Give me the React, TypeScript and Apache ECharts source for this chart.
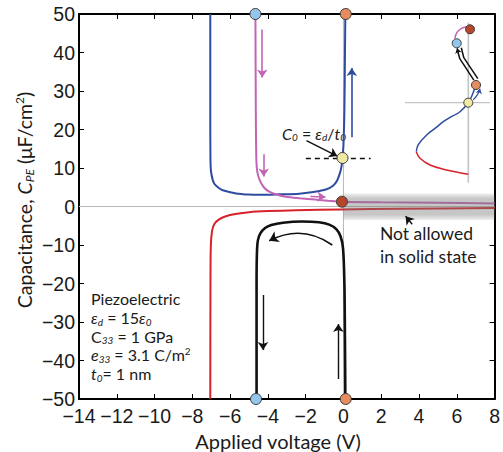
import React, { useEffect, useRef } from "react";
import * as echarts from "echarts";

// ---------- main axes ----------
const xMin = -14, xMax = 8, xStep = 2;
const yMin = -50, yMax = 50, yStep = 10;

// ---------- main curves: [V, C] ----------
const blueCurve: number[][] = [
  [-7.05, 50], [-7.05, 25], [-7.04, 12], [-7.0, 8.7], [-6.85, 6.0], [-6.6, 4.8], [-6.39, 4.2],
  [-5.68, 3.4], [-5.0, 3.1], [-4.45, 3.05], [-3.4, 3.15], [-2.34, 3.3], [-1.6, 3.75],
  [-0.93, 4.4], [-0.55, 5.4], [-0.35, 6.6], [-0.18, 8.8], [-0.1, 10.5], [-0.05, 12.6],
  [0.0, 16], [0.05, 25], [0.08, 40], [0.1, 50],
];
const magentaCurve: number[][] = [
  [-4.66, 50], [-4.64, 25], [-4.61, 12], [-4.56, 9], [-4.44, 6.9], [-4.22, 5.0], [-3.93, 3.85],
  [-3.5, 3.05], [-3.05, 2.55], [-2.3, 2.15], [-1.5, 1.8], [-0.8, 1.5], [-0.08, 1.25],
  [2, 1.1], [5, 0.95], [8, 0.8],
];
const redCurve: number[][] = [
  [-7.05, -50], [-7.04, -20], [-7.02, -10], [-6.95, -6.2], [-6.82, -4.4], [-6.6, -3.4],
  [-6.3, -2.65], [-5.8, -2.0], [-5.0, -1.5], [-4.0, -1.2], [-2.5, -0.95], [-0.1, -0.75],
  [3, -0.6], [8, -0.4],
];
const blackLoop: number[][] = [
  [-4.6, -50], [-4.6, -20], [-4.58, -12], [-4.53, -8.8], [-4.4, -7.0], [-4.15, -5.6],
  [-3.82, -4.8], [-3.2, -4.2], [-2.2, -3.9], [-1.3, -4.1], [-0.75, -4.7], [-0.38, -5.9],
  [-0.15, -7.8], [-0.02, -11], [0.05, -20], [0.08, -35], [0.1, -50],
];
const zeroVertical: number[][] = [[0, -50], [0, 50]];
const zeroHorizontal: number[][] = [[-14, 0], [8, 0]];

// ---------- main markers ----------
const lightBlueDots: number[][] = [[-4.66, 50], [-4.63, -50]];
const orangeDots: number[][] = [[0.12, 50], [0.12, -50]];
const yellowDots: number[][] = [[-0.05, 12.6]];
const darkRedDots: number[][] = [[-0.08, 1.25]];

// ---------- arrows (from -> to) ----------
const magentaArrows: number[][][] = [
  [[-4.3, 46], [-4.3, 33.5]],
  [[-4.22, 13.6], [-4.22, 7.8]],
  [[-1.75, 2.6], [-0.95, 2.45]],
];
const blueArrows: number[][][] = [[[0.44, 18], [0.44, 36]]];
const blackArrows: number[][][] = [
  [[-4.26, -23], [-4.26, -37.3]],
  [[-0.27, -44.8], [-0.27, -30.5]],
  [[-1.96, 17.1], [-0.33, 13.1]],
  [[3.64, -4.6], [3.29, -2.5]],
];
const blackCurvedArrows: number[][][] = [[[-3.93, -8.9], [-0.59, -10]]];
const c0Dashed: number[][][] = [[[-1.99, 12.6], [1.44, 12.6]]];
const forbiddenBand: number[][] = [[0, 8, -3.5, 3.4]];

// ---------- inset (arbitrary schematic units) ----------
const insetRed: number[][] = [[0, -7.16], [-2.16, -6.73], [-3.83, -6.23], [-4.83, -5.56], [-5.2, -4.9]];
const insetBlue: number[][] = [
  [-5.2, -4.9], [-5.0, -4.2], [-4.16, -3.23], [-3.3, -2.55], [-2.5, -1.9], [-1.6, -1.35],
  [-0.83, -0.9], [0, 0], [0.4, 0.8], [0.77, 1.77],
];
const insetBlackA: number[][] = [[-1.1, 5.3], [-0.85, 4.4], [0.55, 2.25]];
const insetBlackB: number[][] = [[-0.7, 5.5], [-0.45, 4.5], [0.95, 2.4]];
const insetMagenta: number[][] = [[-1.35, 6.4], [-1.15, 7.0], [-0.75, 7.38], [-0.25, 7.58], [0.1, 7.5]];
const insetVertical: number[][] = [[0, 8.0], [0, -8]];
const insetHorizontal: number[][] = [[-6.33, 0], [2.17, 0]];
const insetBlueArrow: number[][][] = [[[0.5, 0.3], [1.17, 1.4]]];
const insetBlackArrow: number[][][] = [[[-0.97, 4.9], [-1.12, 5.45]]];
const insetYellow: number[][] = [[0, 0]];
const insetOrange: number[][] = [[0.77, 1.77]];
const insetLightBlue: number[][] = [[-1.16, 5.94]];
const insetDarkRed: number[][] = [[0.17, 7.34]];

// ---------- styles ----------
const INK = "#1a1a1a";
const BLUE = "#2e4c9f";
const MAGENTA = "#c264b6";
const RED = "#d8222a";
const C_LIGHTBLUE = "#93c6ea";
const C_ORANGE = "#e58d5e";
const C_YELLOW = "#eeeaa4";
const C_DARKRED = "#b5462c";
const FONT_TICK = "'Liberation Sans', Arial, Helvetica, sans-serif";
const FONT_TEXT = "Lato, 'Noto Sans', 'DejaVu Sans', sans-serif";

function rich(size: number) {
  const s = Math.round(size * 0.62);
  const off = Math.round(size * 0.5);
  const lh = Math.round(size * 0.4);
  return {
    n: { fontFamily: FONT_TEXT, fontSize: size, fill: INK },
    i: { fontFamily: FONT_TEXT, fontSize: size, fontStyle: "italic", fill: INK },
    sub: { fontFamily: FONT_TEXT, fontSize: s, fontStyle: "italic", fill: INK, lineHeight: lh, padding: [off, 0, 0, 0] },
    sup: { fontFamily: FONT_TEXT, fontSize: s, fill: INK, lineHeight: lh, padding: [0, 0, off, 0] },
  };
}

function textEl(x: number, y: number, text: string, size: number, align = "left", rotation = 0) {
  return {
    type: "text",
    x,
    y,
    rotation,
    silent: true,
    style: {
      text,
      rich: rich(size),
      fontFamily: FONT_TEXT,
      fontSize: size,
      fill: INK,
      align,
      verticalAlign: "middle",
    },
  };
}

function curve(data: number[][], color: string, width: number, xi = 0, yi = 0, smooth: number | boolean = 0.3) {
  return {
    type: "line",
    xAxisIndex: xi,
    yAxisIndex: yi,
    data,
    smooth,
    symbol: "none",
    showSymbol: false,
    silent: true,
    clip: false,
    z: 2,
    lineStyle: { color, width },
  };
}

function arrows(list: number[][][], color: string, width: number, size: number, opts: any = {}, xi = 0, yi = 0) {
  return {
    type: "lines",
    coordinateSystem: "cartesian2d",
    xAxisIndex: xi,
    yAxisIndex: yi,
    silent: true,
    z: 4,
    symbol: opts.symbol || ["none", "arrow"],
    symbolSize: size,
    lineStyle: { color, width, opacity: 1, curveness: opts.curveness || 0, type: opts.type || "solid" },
    data: list.map((c) => ({ coords: c })),
  };
}

function dots(pts: number[][], color: string, size: number, xi = 0, yi = 0) {
  return {
    type: "scatter",
    xAxisIndex: xi,
    yAxisIndex: yi,
    data: pts,
    symbol: "circle",
    symbolSize: size,
    clip: false,
    silent: true,
    z: 6,
    itemStyle: { color, borderColor: "#3a3a3a", borderWidth: 1, opacity: 1 },
  };
}

const minus = (v: number) => String(v).replace("-", "\u2212");

export default function App() {
  const ref = useRef<HTMLDivElement>(null);
  useEffect(() => {
    if (!ref.current) return;
    const chart = echarts.init(ref.current, undefined, { renderer: "svg" });
    const axisLine = { show: true, onZero: false, lineStyle: { color: "#000", width: 2 } };
    const tick = { show: true, inside: true, length: 5, lineStyle: { color: "#000", width: 1 } };
    const mainX = { type: "value", min: xMin, max: xMax, interval: xStep, gridIndex: 0, splitLine: { show: false }, axisLine, axisTick: tick };
    const mainY = { type: "value", min: yMin, max: yMax, interval: yStep, gridIndex: 0, splitLine: { show: false }, axisLine, axisTick: tick };
    const hiddenAxis = (min: number, max: number) => ({
      type: "value", gridIndex: 1, min, max, show: false, splitLine: { show: false },
      axisLine: { show: false, onZero: false },
    });

    const option: any = {
      animation: false,
      backgroundColor: "#ffffff",
      grid: [
        { left: 79, top: 14, width: 417, height: 385 },
        { left: 398.3, top: 22.7, width: 100, height: 160 },
      ],
      xAxis: [
        {
          ...mainX, position: "bottom",
          axisLabel: { formatter: minus, fontFamily: FONT_TICK, fontSize: 19.5, color: INK, margin: 7 },
        },
        { ...mainX, position: "top", axisLabel: { show: false } },
        hiddenAxis(-7, 3),
      ],
      yAxis: [
        {
          ...mainY, position: "left",
          axisLabel: { formatter: minus, fontFamily: FONT_TICK, fontSize: 19.5, color: INK, margin: 4 },
        },
        { ...mainY, position: "right", axisLabel: { show: false } },
        hiddenAxis(-8, 8),
      ],
      series: [
        { ...curve(zeroVertical, "#b8b8b8", 1, 0, 0, false), z: 1 },
        { ...curve(zeroHorizontal, "#b8b8b8", 1, 0, 0, false), z: 1 },
        curve(redCurve, RED, 2),
        curve(blueCurve, BLUE, 2),
        curve(magentaCurve, MAGENTA, 2),
        curve(blackLoop, "#111", 2.6),
        {
          type: "custom",
          xAxisIndex: 0,
          yAxisIndex: 0,
          silent: true,
          z: 3,
          data: forbiddenBand,
          renderItem: (params: any, api: any) => {
            const p0 = api.coord([api.value(0), api.value(3)]);
            const p1 = api.coord([api.value(1), api.value(2)]);
            return {
              type: "rect",
              shape: { x: p0[0], y: p0[1], width: p1[0] - p0[0], height: p1[1] - p0[1] },
              style: {
                fill: new echarts.graphic.LinearGradient(0, 0, 0, 1, [
                  { offset: 0, color: "rgba(120,120,120,0.12)" },
                  { offset: 0.2, color: "rgba(120,120,120,0.42)" },
                  { offset: 0.8, color: "rgba(120,120,120,0.42)" },
                  { offset: 1, color: "rgba(120,120,120,0.12)" },
                ]),
              },
            };
          },
        },
        arrows(magentaArrows, MAGENTA, 1.6, 8),
        arrows(blueArrows, BLUE, 1.6, 8),
        arrows(blackArrows, "#111", 1.4, 8),
        arrows(blackCurvedArrows, "#111", 1.6, 9, { symbol: ["arrow", "none"], curveness: 0.3 }),
        arrows(c0Dashed, "#111", 1.4, 0, { symbol: ["none", "none"], type: [5, 4] }),
        dots(lightBlueDots, C_LIGHTBLUE, 11),
        dots(orangeDots, C_ORANGE, 11),
        dots(yellowDots, C_YELLOW, 11),
        dots(darkRedDots, C_DARKRED, 11),
        // inset
        { ...curve(insetVertical, "#c4c4c4", 1.6, 2, 2, false), z: 1 },
        { ...curve(insetHorizontal, "#c4c4c4", 1.2, 2, 2, false), z: 1 },
        curve(insetRed, RED, 1.5, 2, 2, 0.4),
        curve(insetBlue, BLUE, 1.5, 2, 2, 0.4),
        curve(insetBlackA, "#111", 1.5, 2, 2, false),
        curve(insetBlackB, "#111", 1.5, 2, 2, false),
        curve(insetMagenta, MAGENTA, 1.5, 2, 2, 0.4),
        arrows(insetBlueArrow, BLUE, 1.3, 5, { curveness: -0.15 }, 2, 2),
        arrows(insetBlackArrow, "#111", 1.2, 5, {}, 2, 2),
        dots(insetYellow, C_YELLOW, 9, 2, 2),
        dots(insetOrange, C_ORANGE, 9, 2, 2),
        dots(insetLightBlue, C_LIGHTBLUE, 9, 2, 2),
        dots(insetDarkRed, C_DARKRED, 9, 2, 2),
      ],
      graphic: [
        textEl(24, 200, "{n|Capacitance, }{i|C}{sub|PE}{n| (μF/cm}{sup|2}{n|)}", 19.5, "center", Math.PI / 2),
        textEl(278, 441, "{n|Applied voltage (V)}", 20, "center"),
        textEl(380, 233, "{n|Not allowed}", 17.5),
        textEl(380, 256, "{n|in solid state}", 17.5),
        textEl(91, 298.5, "{n|Piezoelectric}", 16),
        textEl(91, 317.5, "{i|ε}{sub|d}{n| = 15}{i|ε}{sub|0}", 16),
        textEl(91, 336, "{n|C}{sub|33}{n| = 1 GPa}", 16),
        textEl(91, 354.5, "{i|e}{sub|33}{n| = 3.1 C/m}{sup|2}", 16),
        textEl(91, 373.5, "{i|t}{sub|0}{n|= 1 nm}", 16),
        textEl(282, 133, "{i|C}{sub|0}{n| = }{i|ε}{sub|d}{n|/}{i|t}{sub|0}", 16),
      ],
    };
    chart.setOption(option);
    return () => chart.dispose();
  }, []);
  return (
    <div
      ref={ref}
      style={{ position: "fixed", left: 0, top: 0, width: 503, height: 452, background: "#fff" }}
    />
  );
}
